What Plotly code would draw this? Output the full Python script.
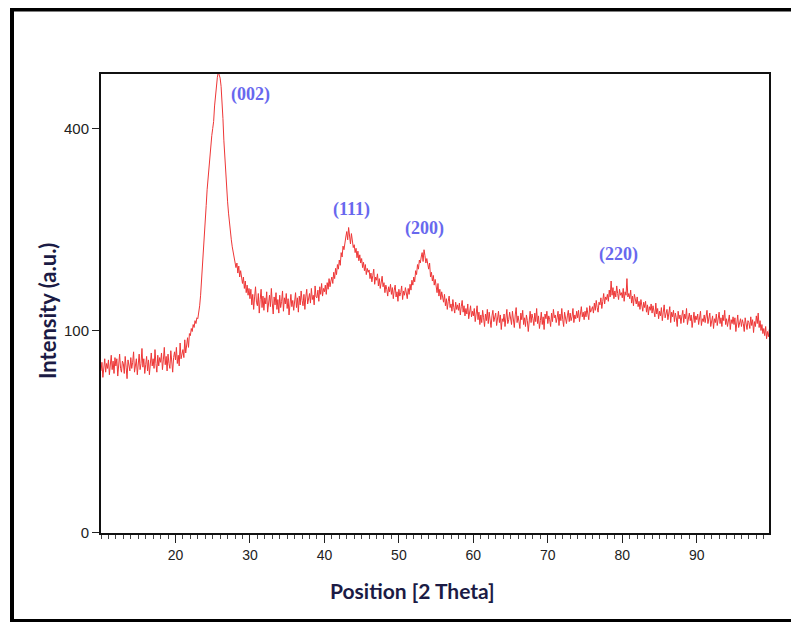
import numpy as np
import plotly.graph_objects as go

# XRD scan: start angle and step (degrees 2-theta)
scan_start = 10.0
scan_step = 0.125

# Intensity (counts), 8 points per degree from 10 to 100
intensity = [
    64, 71, 59, 68, 74, 63, 70, 66,      # 10
    73, 61, 69, 77, 65, 72, 62, 75,      # 11
    68, 74, 60, 71, 78, 66, 63, 72,      # 12
    70, 62, 76, 67, 58, 73, 69, 64,      # 13
    75, 66, 71, 80, 63, 69, 74, 61,      # 14
    72, 78, 65, 70, 83, 67, 74, 62,      # 15
    69, 76, 64, 73, 61, 71, 79, 68,      # 16
    74, 66, 82, 70, 63, 77, 68, 75,      # 17
    71, 79, 65, 73, 84, 69, 76, 64,      # 18
    78, 70, 66, 81, 72, 63, 75, 80,      # 19
    73, 84, 70, 77, 68, 88, 74, 79,      # 20
    82, 75, 91, 79, 86, 93, 84, 97,      # 21
    95, 102, 99, 106, 103, 110, 107, 113,  # 22
    112, 118, 126, 138, 154, 172, 194, 216,  # 23
    238, 262, 288, 310, 333, 352, 370, 386,  # 24
    400, 414, 446, 470, 492, 508, 520, 514,  # 25
    506, 488, 462, 420, 376, 342, 312, 290,  # 26
    268, 250, 232, 220, 210, 200, 192, 186,  # 27
    181, 172, 178, 165, 174, 160, 168, 156,  # 28
    152, 160, 146, 155, 141, 150, 138, 146,  # 29
    134, 145, 127, 139, 122, 136, 148, 130,  # 30
    126, 140, 118, 133, 145, 124, 137, 121,  # 31
    135, 128, 142, 119, 131, 138, 125, 146,  # 32
    129, 117, 136, 127, 141, 122, 133, 118,  # 33
    138, 124, 131, 143, 120, 135, 128, 140,  # 34
    123, 134, 116, 129, 139, 125, 132, 121,  # 35
    130, 141, 124, 135, 119, 137, 127, 143,  # 36
    132, 126, 139, 122, 136, 145, 128, 134,  # 37
    140, 129, 146, 133, 138, 127, 149, 136,  # 38
    135, 144, 131, 148, 139, 152, 137, 146,  # 39
    142, 150, 139, 153, 145, 158, 148, 155,  # 40
    160, 152, 166, 158, 171, 163, 176, 170,  # 41
    182, 175, 192, 186, 201, 196, 209, 214,  # 42
    222, 210, 228, 216, 204, 219, 208, 199,  # 43
    203, 192, 198, 185, 194, 181, 189, 178,  # 44
    184, 172, 179, 168, 176, 163, 171, 166,  # 45
    169, 158, 165, 154, 162, 170, 151, 160,  # 46
    156, 164, 149, 158, 146, 155, 161, 148,  # 47
    153, 141, 150, 145, 137, 148, 142, 151,  # 48
    139, 147, 134, 144, 150, 136, 142, 131,  # 49
    145, 137, 141, 149, 133, 143, 138, 147,  # 50
    140, 134, 146, 139, 151, 144, 156, 150,  # 51
    160, 154, 168, 163, 176, 170, 182, 178,  # 52
    186, 192, 180, 196, 188, 178, 184, 174,  # 53
    170, 178, 160, 166, 155, 162, 150, 157,  # 54
    148, 141, 152, 137, 145, 133, 142, 136,  # 55
    130, 139, 126, 134, 122, 131, 137, 124,  # 56
    128, 120, 133, 124, 118, 130, 122, 127,  # 57
    121, 129, 116, 125, 132, 119, 126, 115,  # 58
    123, 117, 128, 112, 121, 126, 114, 120,  # 59
    115, 123, 109, 118, 126, 111, 119, 106,  # 60
    116, 108, 121, 113, 104, 117, 110, 122,  # 61
    107, 119, 112, 103, 115, 121, 109, 114,  # 62
    118, 105, 113, 120, 108, 116, 101, 112,  # 63
    109, 117, 104, 114, 122, 107, 111, 119,  # 64
    113, 106, 120, 110, 103, 116, 124, 108,  # 65
    115, 109, 102, 118, 111, 121, 106, 113,  # 66
    104, 116, 110, 99, 114, 120, 108, 117,   # 67
    112, 105, 118, 109, 123, 107, 115, 102,  # 68
    110, 119, 106, 114, 101, 117, 112, 120,  # 69
    107, 115, 111, 104, 118, 109, 122, 113,  # 70
    116, 108, 113, 120, 105, 117, 110, 123,  # 71
    111, 104, 119, 112, 107, 115, 121, 109,  # 72
    118, 110, 114, 123, 108, 116, 112, 120,  # 73
    113, 121, 109, 117, 125, 114, 119, 111,  # 74
    120, 114, 124, 117, 111, 126, 119, 122,  # 75
    125, 118, 129, 121, 132, 124, 119, 130,  # 76
    127, 135, 123, 131, 140, 128, 136, 133,  # 77
    139, 131, 144, 136, 155, 138, 147, 134,  # 78
    143, 136, 149, 140, 133, 145, 138, 141,  # 79
    135, 146, 131, 142, 138, 158, 136, 140,  # 80
    134, 144, 129, 137, 126, 139, 132, 128,  # 81
    136, 125, 131, 122, 133, 127, 120, 130,  # 82
    124, 131, 119, 127, 116, 125, 121, 128,  # 83
    118, 126, 121, 114, 129, 117, 123, 112,  # 84
    120, 115, 124, 110, 119, 127, 113, 118,  # 85
    122, 111, 117, 125, 108, 119, 114, 121,  # 86
    109, 118, 113, 104, 120, 112, 116, 107,  # 87
    115, 121, 108, 117, 112, 123, 106, 114,  # 88
    118, 110, 116, 103, 113, 119, 108, 115,  # 89
    111, 117, 106, 113, 120, 105, 112, 109,  # 90
    116, 108, 114, 121, 107, 112, 118, 104,  # 91
    110, 115, 102, 112, 108, 117, 105, 113,  # 92
    119, 107, 113, 104, 116, 110, 121, 106,  # 93
    112, 104, 109, 116, 101, 111, 107, 114,  # 94
    106, 113, 99, 110, 116, 103, 109, 112,   # 95
    104, 111, 107, 99, 113, 106, 101, 110,   # 96
    108, 102, 114, 105, 111, 98, 109, 104,   # 97
    115, 107, 118, 103, 110, 100, 106, 97,   # 98
    102, 95, 104, 92, 99, 94, 101, 90,       # 99
    96,                                      # 100
]

x_ticks = [20, 30, 40, 50, 60, 70, 80, 90]
y_tick_values = [0, 100, 400]

peak_labels = ["(002)", "(111)", "(200)", "(220)"]
peak_label_x = [30.1, 43.7, 53.5, 79.5]
peak_label_y = [470, 256, 227, 190]

two_theta = scan_start + scan_step * np.arange(len(intensity))
y_sqrt = np.sqrt(np.array(intensity, dtype=float))

fig = go.Figure()
fig.add_trace(go.Scatter(
    x=two_theta, y=y_sqrt, mode="lines",
    line=dict(color="#ee3636", width=1),
    hoverinfo="skip", showlegend=False,
))

for t, px, py in zip(peak_labels, peak_label_x, peak_label_y):
    fig.add_annotation(
        x=px, y=np.sqrt(py), xref="x", yref="y", text="<b>" + t + "</b>", showarrow=False,
        xanchor="center", yanchor="middle",
        font=dict(family="Liberation Serif", size=18, color="#6868ee"),
    )

# axis titles
fig.add_annotation(
    x=(412 - 101) / 668, y=(533 - 590) / 459, xref="paper", yref="paper",
    text="<b>Position [2 Theta]</b>", showarrow=False,
    xanchor="center", yanchor="middle",
    font=dict(family="Lato", size=21, color="#1b1b45"),
)
fig.add_annotation(
    x=(47 - 101) / 668, y=(533 - 311) / 459, xref="paper", yref="paper",
    text="<b>Intensity (a.u.)</b>", showarrow=False, textangle=-90,
    xanchor="center", yanchor="middle",
    font=dict(family="Lato", size=22, color="#1b1b45"),
)

# outer frame
fig.add_shape(
    type="rect", xref="paper", yref="paper",
    x0=(12 - 101) / 668, x1=(815 - 101) / 668,
    y0=(533 - 621) / 459, y1=(533 - 9.5) / 459,
    line=dict(color="black", width=4), fillcolor="rgba(0,0,0,0)",
)

# the page body adds an 8px offset, so margins are reduced by 8px on left/top
fig.update_layout(
    width=799, height=622,
    margin=dict(l=93, r=38, t=66, b=97, pad=0),
    paper_bgcolor="white", plot_bgcolor="white",
    showlegend=False,
)
fig.update_xaxes(
    range=[10.0, 99.7], tickvals=x_ticks, ticktext=[str(v) for v in x_ticks],
    ticks="outside", ticklen=8, tickwidth=1, tickcolor="#222",
    minor=dict(dtick=1, tick0=0, ticks="outside", ticklen=4, tickcolor="#444", tickwidth=1, showgrid=False),
    showline=True, linecolor="#111", linewidth=2, mirror=True,
    showgrid=False, zeroline=False,
    tickfont=dict(family="Arial, Liberation Sans", size=14, color="#222"),
)
fig.update_yaxes(
    range=[-0.025, 22.7], tickvals=[np.sqrt(v) for v in y_tick_values],
    ticktext=[str(v) for v in y_tick_values],
    ticks="outside", ticklen=7, tickwidth=1, tickcolor="#222",
    showline=True, linecolor="#111", linewidth=2, mirror=True,
    showgrid=False, zeroline=False,
    tickfont=dict(family="Arial, Liberation Sans", size=15, color="#222"),
)

fig.write_html("out.html")
